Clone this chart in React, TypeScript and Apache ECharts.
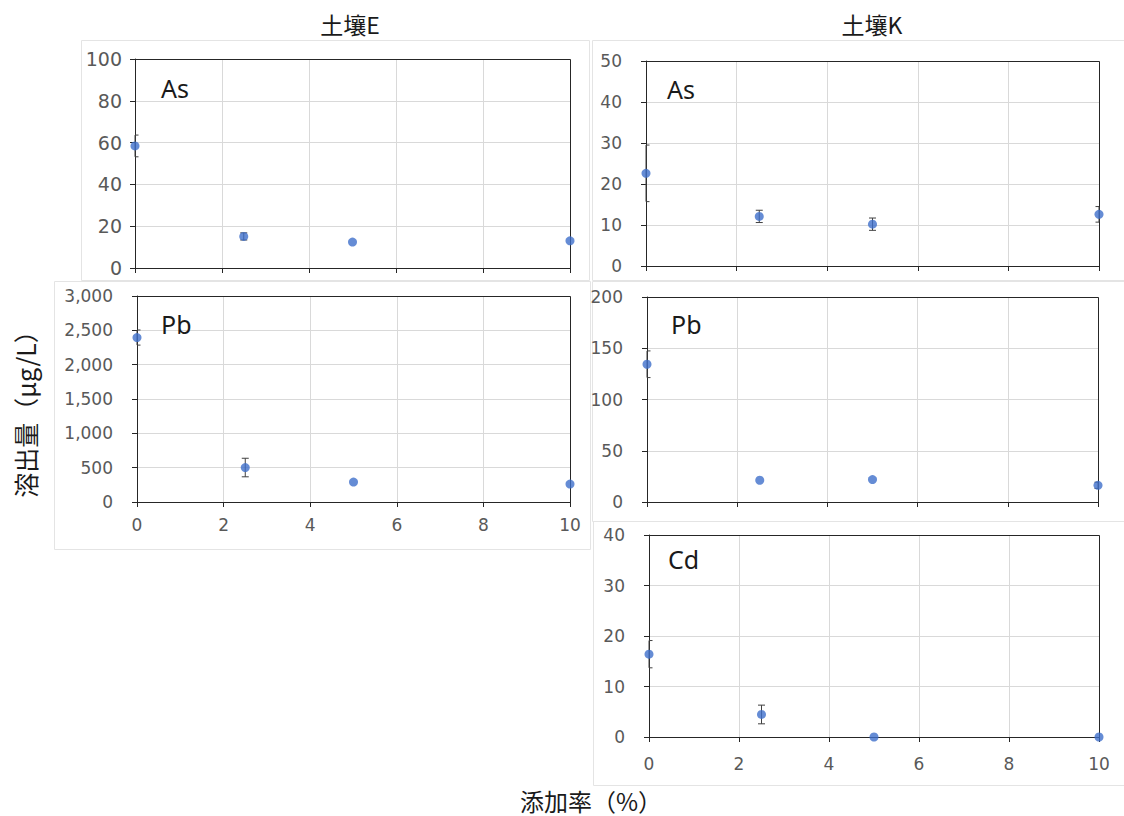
import React, { useEffect, useRef } from "react";
import * as echarts from "echarts";

// ---- data ----
const addRates = [0, 2.5, 5, 10]; // 添加率 (%)

const soilE_As = [58.4, 15.1, 12.4, 13.0];
const soilE_AsErr = [5.2, 1.7, 0, 0];
const soilE_Pb = [2395, 502, 290, 261];
const soilE_PbErr = [110, 135, 0, 0];

const soilK_As = [22.6, 12.1, 10.2, 12.6];
const soilK_AsErr = [6.9, 1.5, 1.5, 1.9];
const soilK_Pb = [134.4, 21.2, 21.9, 16.3];
const soilK_PbErr = [13, 0, 0, 3];
const soilK_Cd = [16.4, 4.46, 0, 0];
const soilK_CdErr = [2.7, 1.85, 0, 0];

const columnTitles = ["土壤E", "土壤K"];
const yAxisTitle = "溶出量（μg/L）";
const xAxisTitle = "添加率（%）";

const yMax = [100, 50, 3000, 200, 40];
const yStep = [20, 10, 500, 50, 10];
const xMax = 10;
const xStep = 2;

// ---- layout (positions / styles only) ----
const panels = [
  { name: "As", values: soilE_As, errs: soilE_AsErr, left: 135, top: 59, width: 435, height: 209, showX: false, labelMargin: 13, fontSize: 19, tag: [161, 75] },
  { name: "As", values: soilK_As, errs: soilK_AsErr, left: 646, top: 61, width: 453, height: 205, showX: false, labelMargin: 24, fontSize: 17, tag: [667, 76] },
  { name: "Pb", values: soilE_Pb, errs: soilE_PbErr, left: 137, top: 296, width: 433, height: 206, showX: true, xMargin: 14, labelMargin: 24, fontSize: 17, tag: [161, 311] },
  { name: "Pb", values: soilK_Pb, errs: soilK_PbErr, left: 647, top: 297, width: 451, height: 205, showX: false, labelMargin: 24, fontSize: 17, tag: [671, 311] },
  { name: "Cd", values: soilK_Cd, errs: soilK_CdErr, left: 649, top: 535, width: 450, height: 202, showX: true, xMargin: 18, labelMargin: 24, fontSize: 17, tag: [668, 546] },
];

const BLUE = "#3F6FCB";
const TICK_COLOR = "#595959";
const AXIS_COLOR = "#262626";
const GRID_COLOR = "#d9d9d9";
const TICK_FONT = "DejaVu Sans";

const fmt = (v: number) => v.toLocaleString("en-US");

const errRender = (params: any, api: any) => {
  const x = api.value(0);
  const y = api.value(1);
  const e = api.value(2);
  if (!e) return { type: "group", children: [] };
  const top = api.coord([x, y + e]);
  const bot = api.coord([x, y - e]);
  const cs = params.coordSys;
  const half = 3.5;
  const cx = (v: number) => Math.max(cs.x, Math.min(cs.x + cs.width, v));
  const style = { stroke: "#404040", lineWidth: 1 };
  return {
    type: "group",
    children: [
      { type: "line", shape: { x1: top[0], y1: top[1], x2: bot[0], y2: bot[1] }, style },
      { type: "line", shape: { x1: cx(top[0] - half), y1: top[1], x2: cx(top[0] + half), y2: top[1] }, style },
      { type: "line", shape: { x1: cx(bot[0] - half), y1: bot[1], x2: cx(bot[0] + half), y2: bot[1] }, style },
    ],
  };
};

export default function App() {
  const ref = useRef<HTMLDivElement>(null);

  useEffect(() => {
    if (!ref.current) return;
    const chart = echarts.init(ref.current, undefined, { renderer: "svg" });

    const grid = panels.map((p) => ({
      left: p.left,
      top: p.top,
      width: p.width,
      height: p.height,
      show: false,
    }));

    const xAxis = panels.map((p, i) => ({
      type: "value",
      gridIndex: i,
      min: 0,
      max: xMax,
      interval: xStep,
      axisLine: { show: true, onZero: false, lineStyle: { color: AXIS_COLOR, width: 1 } },
      axisTick: { show: true, inside: false, length: 5, lineStyle: { color: AXIS_COLOR } },
      splitLine: { show: true, lineStyle: { color: GRID_COLOR, width: 1 } },
      axisLabel: {
        show: p.showX,
        margin: p.xMargin ?? 10,
        color: TICK_COLOR,
        fontFamily: TICK_FONT,
        fontSize: p.fontSize,
        showMinLabel: true,
        showMaxLabel: true,
      },
    }));

    const yAxis = panels.map((p, i) => ({
      type: "value",
      gridIndex: i,
      min: 0,
      max: yMax[i],
      interval: yStep[i],
      axisLine: { show: true, lineStyle: { color: AXIS_COLOR, width: 1 } },
      axisTick: { show: true, inside: false, length: 5, lineStyle: { color: AXIS_COLOR } },
      splitLine: { show: true, lineStyle: { color: GRID_COLOR, width: 1 } },
      axisLabel: {
        margin: p.labelMargin,
        color: TICK_COLOR,
        fontFamily: TICK_FONT,
        fontSize: p.fontSize,
        formatter: (v: number) => fmt(v),
      },
    }));

    const series: any[] = [];
    panels.forEach((p, i) => {
      series.push({
        type: "custom",
        xAxisIndex: i,
        yAxisIndex: i,
        renderItem: errRender,
        clip: false,
        encode: { x: 0, y: 1 },
        data: addRates.map((x, k) => [x, p.values[k], p.errs[k]]),
        z: 3,
      });
      series.push({
        type: "scatter",
        xAxisIndex: i,
        yAxisIndex: i,
        symbol: "circle",
        symbolSize: 9,
        clip: false,
        itemStyle: { color: BLUE },
        data: addRates.map((x, k) => [x, p.values[k]]),
        z: 4,
      });
    });

    const frameStyle = { fill: "none", stroke: "#e4e4e4", lineWidth: 1 };
    const graphic: any[] = [
      { type: "rect", shape: { x: 81.5, y: 40.5, width: 508, height: 240 }, style: frameStyle, silent: true, z: -1 },
      { type: "rect", shape: { x: 592.5, y: 40.5, width: 540, height: 240 }, style: frameStyle, silent: true, z: -1 },
      { type: "rect", shape: { x: 54.5, y: 281.5, width: 536, height: 268 }, style: frameStyle, silent: true, z: -1 },
      { type: "rect", shape: { x: 592.5, y: 281.5, width: 540, height: 240 }, style: frameStyle, silent: true, z: -1 },
      { type: "rect", shape: { x: 593.5, y: 521.5, width: 540, height: 264 }, style: frameStyle, silent: true, z: -1 },
      // plot-area frames (dark border around each plot)
      ...panels.map((p) => ({
        type: "rect",
        shape: { x: p.left + 0.5, y: p.top + 0.5, width: p.width, height: p.height },
        style: { fill: "none", stroke: AXIS_COLOR, lineWidth: 1 },
        silent: true,
        z: 2,
      })),
      {
        type: "text", x: 350, y: 24,
        style: { text: columnTitles[0], font: '23px "Noto Sans CJK JP"', fill: "#1a1a1a", textAlign: "center", textVerticalAlign: "middle" },
      },
      {
        type: "text", x: 872, y: 24,
        style: { text: columnTitles[1], font: '23px "Noto Sans CJK JP"', fill: "#1a1a1a", textAlign: "center", textVerticalAlign: "middle" },
      },
      {
        type: "text", x: 25, y: 408, rotation: Math.PI / 2,
        style: { text: yAxisTitle, font: '25px "Noto Sans CJK JP"', fill: "#1a1a1a", textAlign: "center", textVerticalAlign: "middle" },
      },
      {
        type: "text", x: 591, y: 800,
        style: { text: xAxisTitle, font: '24px "Noto Sans CJK JP"', fill: "#1a1a1a", textAlign: "center", textVerticalAlign: "middle" },
      },
      ...panels.map((p) => ({
        type: "text", x: p.tag[0], y: p.tag[1], z: 10,
        style: { text: p.name, font: '25px "Noto Sans"', fill: "#1a1a1a", textAlign: "left", textVerticalAlign: "top" },
      })),
    ];

    chart.setOption({
      animation: false,
      backgroundColor: "#ffffff",
      grid,
      xAxis,
      yAxis,
      series,
      graphic,
    });

    return () => chart.dispose();
  }, []);

  return (
    <div
      ref={ref}
      style={{ position: "absolute", left: 0, top: 0, width: 1124, height: 816 }}
    />
  );
}
